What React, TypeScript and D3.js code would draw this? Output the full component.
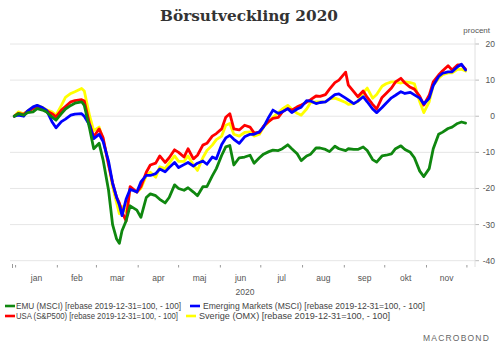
import React from 'react';
import * as d3 from 'd3';

const dates = [
  '2019-12-31', '2020-01-03', '2020-01-07', '2020-01-10', '2020-01-14', '2020-01-17', '2020-01-21', '2020-01-24', '2020-01-28', '2020-01-31',
  '2020-02-04', '2020-02-07', '2020-02-11', '2020-02-14', '2020-02-19', '2020-02-21', '2020-02-25', '2020-02-28',
  '2020-03-03', '2020-03-06', '2020-03-10', '2020-03-13', '2020-03-16', '2020-03-18', '2020-03-20', '2020-03-23', '2020-03-26', '2020-03-31',
  '2020-04-03', '2020-04-07', '2020-04-10', '2020-04-14', '2020-04-17', '2020-04-21', '2020-04-24', '2020-04-28',
  '2020-05-01', '2020-05-05', '2020-05-08', '2020-05-12', '2020-05-15', '2020-05-19', '2020-05-22', '2020-05-26', '2020-05-29',
  '2020-06-02', '2020-06-05', '2020-06-08', '2020-06-11', '2020-06-15', '2020-06-19', '2020-06-23', '2020-06-26', '2020-06-30',
  '2020-07-03', '2020-07-07', '2020-07-10', '2020-07-14', '2020-07-17', '2020-07-21', '2020-07-24', '2020-07-28', '2020-07-31',
  '2020-08-04', '2020-08-07', '2020-08-11', '2020-08-14', '2020-08-18', '2020-08-21', '2020-08-25', '2020-08-28',
  '2020-09-02', '2020-09-04', '2020-09-08', '2020-09-11', '2020-09-15', '2020-09-18', '2020-09-22', '2020-09-25', '2020-09-29',
  '2020-10-02', '2020-10-06', '2020-10-09', '2020-10-13', '2020-10-16', '2020-10-20', '2020-10-23', '2020-10-27', '2020-10-30',
  '2020-11-03', '2020-11-06', '2020-11-10', '2020-11-13', '2020-11-17', '2020-11-20', '2020-11-24', '2020-11-27', '2020-11-30',
];

const emu = [
  0, 0.7, 0.3, 1.0, 1.2, 2.1, 1.7, 1.2, -0.2, -1.1,
  0.7, 2.0, 3.0, 3.6, 4.0, 3.0, -3.5, -9.0,
  -7.5, -12.2, -20.5, -30.0, -34.0, -35.2, -31.7, -29.0, -24.8, -26.0,
  -28.0, -22.5, -21.5, -22.0, -23.0, -24.0, -22.5, -19.0,
  -20.0, -20.5, -19.8, -21.0, -22.0, -19.5, -19.5, -16.5, -14.5,
  -10.8, -8.5, -8.1, -13.5, -11.5, -11.3, -10.8, -13.0, -11.5,
  -10.5, -9.8, -9.4, -9.5, -9.0, -7.9, -9.0, -10.4, -12.3,
  -11.0, -10.5, -8.8, -8.8, -9.2, -9.8, -8.3, -9.0,
  -9.5, -9.0, -9.2, -9.2, -8.5, -9.5, -12.0, -12.7, -11.0,
  -10.8, -10.4, -9.0, -8.2, -9.2, -10.0, -11.5, -15.2, -16.7,
  -14.5, -9.0, -5.0, -4.4, -3.4, -3.0, -2.0, -1.6, -1.9,
];

const emerging = [
  0, 0.3, 0, 1.5, 2.6, 3.0, 2.4, 1.6, -1.5, -3.2,
  -1.5, -0.8, 0.3, 0.6, 0.7, 0, -2.5, -6.2,
  -5.0, -7.0, -12.5, -18.5, -22.5, -24.5, -27.5, -23.0, -20.2, -21.0,
  -18.2, -16.4, -16.4, -15.9, -14.6, -15.4, -14.2, -12.8,
  -14.2, -13.4, -12.8, -13.8, -13.0, -12.4, -13.3, -11.3, -11.8,
  -7.8, -6.0, -5.3, -6.4, -7.5, -5.7, -5.0, -5.0, -4.3,
  -3.0, -0.2, 1.7, 0.8, 1.2, 2.1, 1.0, 2.0, 2.5,
  4.3, 4.2, 3.5, 3.8, 4.0, 4.8, 6.0, 6.2,
  5.0, 4.5, 3.5, 4.2, 5.4, 4.0, 2.0, 1.0, 2.4,
  3.6, 5.1, 5.8, 6.8, 6.3, 6.6, 5.9, 5.0, 3.4,
  5.0, 8.5, 11.0, 11.9, 12.3, 12.3, 13.7, 14.4, 12.8,
];

const usa = [
  0, 0.8, 0.5, 1.4, 2.1, 2.8, 2.1, 1.5, 0.7, -0.2,
  1.7, 2.7, 4.0, 4.3, 4.6, 4.2, -2.3, -5.7,
  -3.5, -6.0, -13.5, -18.5, -22.5, -24.0, -26.5, -29.0, -19.5, -21.0,
  -19.5, -15.5, -13.5, -13.0, -11.0, -12.8, -11.5, -9.3,
  -10.0, -11.3, -9.0, -11.8, -10.8, -8.0, -7.5, -5.5, -4.8,
  -3.5, -0.3, 0.7, -3.5, -3.8, -2.5, -3.0, -4.6, -4.5,
  -2.8, -1.4, -0.6, -0.3, 1.2, 2.1, 1.7, 2.6, 3.1,
  3.9, 4.6, 5.6, 5.5, 6.0, 7.5, 9.3, 10.0,
  12.2, 8.6, 6.8, 5.4, 7.0, 5.2, 3.3, 2.0, 5.2,
  6.3, 7.8, 9.5, 10.5, 9.2, 8.0, 7.5, 5.5, 3.1,
  5.8, 9.5, 11.4, 12.6, 14.0, 12.8, 14.2, 14.2, 13.0,
];

const sverige = [
  0, 1.2, 0.7, 1.5, 2.4, 3.0, 2.4, 1.8, 1.2, 0.3,
  3.0, 5.2, 6.3, 6.8, 7.7, 7.0, 0, -4.0,
  -3.0, -6.5, -13.0, -19.5, -24.0, -27.0, -25.0, -26.5, -20.0, -21.0,
  -20.0, -16.5, -15.5, -16.9, -14.0, -14.5, -13.0, -11.0,
  -12.5, -12.5, -11.0, -13.5, -15.0, -11.5, -9.5, -8.0, -6.5,
  -5.5, -2.5, -2.0, -5.0, -5.5, -4.5, -4.3, -5.5, -5.0,
  -3.0, -1.5, -0.3, 1.0, 2.0, 3.0, 2.0, 0.8, 0.3,
  2.0, 3.8, 4.0, 4.0, 4.0, 4.8, 5.0, 4.6,
  3.8, 3.3, 3.5, 4.0, 6.5, 7.8, 5.0, 6.0, 8.3,
  9.0, 9.5, 9.5, 9.2, 9.5, 9.3, 9.0, 4.0, 1.0,
  4.0, 8.5, 10.5, 11.5, 12.0, 12.0, 13.0, 13.0, 12.5,
];

const yTicks = [20, 10, 0, -10, -20, -30, -40];
const monthLabels = ['jan', 'feb', 'mar', 'apr', 'maj', 'jun', 'jul', 'aug', 'sep', 'okt', 'nov'];

const seriesNames = [
  'EMU (MSCI) [rebase 2019-12-31=100, - 100]',
  'Emerging Markets (MSCI) [rebase 2019-12-31=100, - 100]',
  'USA (S&P500) [rebase 2019-12-31=100, - 100]',
  'Sverige (OMX) [rebase 2019-12-31=100, - 100]',
];
const seriesColors = ['#0f870f', '#0000ff', '#ff0000', '#ffff00'];
const seriesValues = [emu, emerging, usa, sverige];

const parse = d3.timeParse('%Y-%m-%d');

const App = () => {
  const width = 500;
  const height = 350;
  const left = 12;
  const right = 475;

  const x = d3.scaleTime()
    .domain([new Date(2019, 11, 29, 8), new Date(2020, 11, 7)])
    .range([left, right]);
  const y = d3.scaleLinear().domain([-40, 20]).range([260.7, 44]);

  const parsed = dates.map(d => parse(d) as Date);
  const line = d3.line<number>()
    .x((_, i) => x(parsed[i]))
    .y(v => y(v));

  const monthStarts = d3.timeMonth.range(new Date(2020, 0, 1), new Date(2020, 11, 2));
  const font = "'Liberation Sans', Arial, sans-serif";

  // legend layout taken from the original (swatch x, text x, text width, row)
  const legendPos = [
    { sx: 5, tx: 16, w: 165, y: 306 },
    { sx: 190, tx: 203, w: 222, y: 306 },
    { sx: 5, tx: 16, w: 162, y: 316 },
    { sx: 186, tx: 199, w: 191, y: 316 },
  ];

  return (
    <svg width={width} height={height} style={{ position: 'absolute', left: 0, top: 0, background: '#fff' }}>
      <text x={249} y={21} textAnchor="middle" fontFamily="'DejaVu Serif', serif" fontWeight="bold" fontSize={15.3} fill="#333">
        Börsutveckling 2020
      </text>

      {yTicks.map(t => (
        <g key={t}>
          <line x1={10} x2={right} y1={y(t)} y2={y(t)} stroke="#e6e6e6" strokeWidth={1} />
          <line x1={right} x2={right + 4} y1={y(t)} y2={y(t)} stroke="#bbb" strokeWidth={1} />
          <text x={495} y={y(t) + 3} textAnchor="end" fontFamily={font} fontSize={8.5} fill="#555">{t}</text>
        </g>
      ))}
      <line x1={right} x2={right} y1={38} y2={267} stroke="#e0e0e0" strokeWidth={1} />
      <text x={490} y={33} textAnchor="end" fontFamily={font} fontSize={8} fill="#555">procent</text>

      {monthStarts.map(m => (
        <line key={+m} x1={x(m)} x2={x(m)} y1={265} y2={267.5} stroke="#999" strokeWidth={1} />
      ))}
      <line x1={left + 0.5} x2={left + 0.5} y1={264} y2={268} stroke="#999" strokeWidth={1} />
      {monthLabels.map((lab, i) => {
        const mid = (x(monthStarts[i]) + x(monthStarts[i + 1])) / 2;
        return (
          <text key={lab} x={mid} y={281} textAnchor="middle" fontFamily={font} fontSize={8.5} fill="#555">{lab}</text>
        );
      })}
      <text x={245} y={295} textAnchor="middle" fontFamily={font} fontSize={8.5} fill="#555">2020</text>

      {[3, 2, 1, 0].map(k => (
        <path key={k} d={line(seriesValues[k]) || ''} fill="none" stroke={seriesColors[k]}
          strokeWidth={2.8} strokeLinejoin="round" strokeLinecap="round" />
      ))}

      {seriesNames.map((name, k) => (
        <g key={name}>
          <rect x={legendPos[k].sx} y={legendPos[k].y - 1.3} width={10} height={2.6} fill={seriesColors[k]} />
          <text x={legendPos[k].tx} y={legendPos[k].y + 2.8} fontFamily={font} fontSize={8.3} fill="#444"
            textLength={legendPos[k].w} lengthAdjust="spacingAndGlyphs">{name}</text>
        </g>
      ))}

      <text x={490} y={341} textAnchor="end" fontFamily={font} fontSize={8.5} letterSpacing={1.2} fill="#666">MACROBOND</text>
    </svg>
  );
};

export default App;
